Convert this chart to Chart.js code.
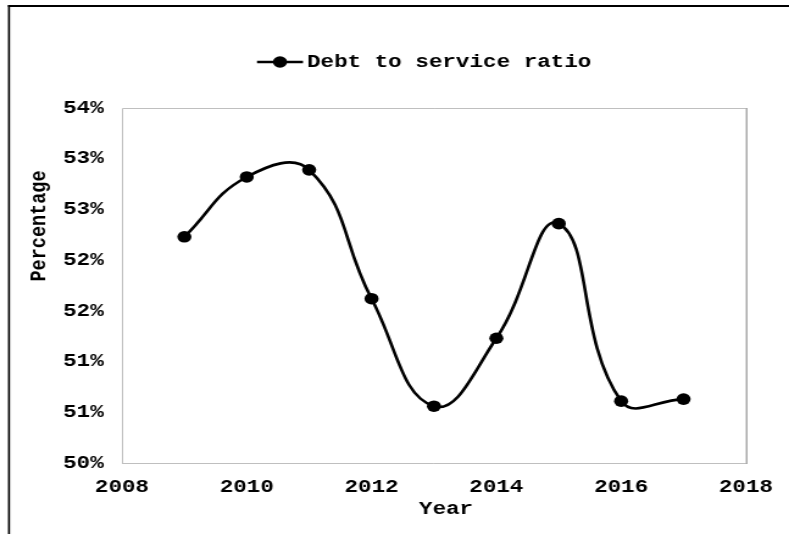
<!DOCTYPE html>
<html>
<head>
<meta charset="utf-8">
<script src="https://cdn.jsdelivr.net/npm/chart.js@4"></script>
<style>
  html, body { margin: 0; padding: 0; background: #fff; overflow: hidden; }
  #wrap { position: absolute; left: 0; top: 0; width: 789px; height: 534px; overflow: hidden; }
  #c { display: block; transform-origin: 0 0; transform: scaleX(1.219474); }
</style>
</head>
<body>
<div id="wrap"><canvas id="c" width="647" height="534"></canvas></div>
<script>
const years = [2009, 2010, 2011, 2012, 2013, 2014, 2015, 2016, 2017];
const ratioValues = [52.23, 52.82, 52.89, 51.62, 50.56, 51.23, 52.36, 50.61, 50.63];
const yTickLabels = ['50%', '51%', '51%', '52%', '52%', '53%', '53%', '54%'];
const xTickLabels = ['2008', '2010', '2012', '2014', '2016', '2018'];
const seriesName = 'Debt to service ratio';
const xTitle = 'Year';
const yTitle = 'Percentage';

const SX = 789 / 647; // horizontal stretch applied by CSS
const FSIZE = 18.5;
const FAMILY = '"Liberation Mono", "Courier New", monospace';
const FONT = 'bold ' + FSIZE + 'px ' + FAMILY;

const decorPlugin = {
  id: 'decor',
  beforeDraw(chart) {
    const ctx = chart.ctx;
    ctx.save();
    ctx.fillStyle = '#fff';
    ctx.fillRect(0, 0, chart.width, chart.height);
    ctx.fillStyle = '#000';
    ctx.fillRect(8 / SX, 5, chart.width, 2);
    ctx.fillRect(8 / SX, 5, 2 / SX, chart.height);
    ctx.restore();
  },
  beforeDatasetsDraw(chart) {
    const ctx = chart.ctx;
    const a = chart.chartArea;
    ctx.save();
    ctx.lineWidth = 1;
    ctx.strokeStyle = '#bfbfbf';
    ctx.beginPath();
    ctx.moveTo(a.left + 0.5, a.bottom + 0.5);
    ctx.lineTo(a.left + 0.5, a.top + 0.5);
    ctx.lineTo(a.right, a.top + 0.5);
    ctx.moveTo(a.left, a.bottom + 0.5);
    ctx.lineTo(a.right, a.bottom + 0.5);
    ctx.stroke();
    ctx.strokeStyle = '#808080';
    ctx.beginPath();
    ctx.moveTo(a.right + 0.5, a.top);
    ctx.lineTo(a.right + 0.5, a.bottom + 1);
    ctx.stroke();
    ctx.restore();
  },
  afterDraw(chart) {
    const ctx = chart.ctx;
    ctx.save();
    ctx.fillStyle = '#000';
    ctx.font = FONT;
    const ly = 62;
    ctx.strokeStyle = '#000';
    ctx.lineWidth = 2.5;
    ctx.beginPath();
    ctx.moveTo(257 / SX, ly);
    ctx.lineTo(303 / SX, ly);
    ctx.stroke();
    ctx.beginPath();
    ctx.arc(280 / SX, ly, 5.8, 0, Math.PI * 2);
    ctx.fill();
    ctx.textAlign = 'left';
    ctx.textBaseline = 'middle';
    ctx.fillText(seriesName, 307 / SX, ly);
    ctx.textAlign = 'center';
    ctx.fillText(xTitle, 446 / SX, 509);
    ctx.translate(40 / SX, 226);
    ctx.rotate(-Math.PI / 2);
    ctx.fillText(yTitle, 0, 0);
    ctx.restore();
  }
};

new Chart(document.getElementById('c'), {
  type: 'line',
  data: {
    datasets: [{
      label: seriesName,
      data: years.map((y, i) => ({ x: y, y: ratioValues[i] })),
      borderColor: '#000',
      backgroundColor: '#000',
      borderWidth: 2.6,
      pointRadius: 5.8,
      pointHoverRadius: 5.8,
      pointBackgroundColor: '#000',
      pointBorderWidth: 0,
      tension: 0.45,
      fill: false
    }]
  },
  options: {
    responsive: false,
    animation: false,
    devicePixelRatio: 1,
    layout: { padding: { left: 0, right: 35.3, top: 108, bottom: 0 } },
    plugins: {
      legend: { display: false },
      tooltip: { enabled: false }
    },
    scales: {
      x: {
        type: 'linear',
        min: 2008,
        max: 2018,
        ticks: {
          stepSize: 2,
          color: '#000',
          font: { family: FAMILY, size: FSIZE, weight: 'bold' },
          padding: 13,
          maxRotation: 0,
          callback: (v) => { const i = xTickLabels.indexOf(String(v)); return i >= 0 ? xTickLabels[i] : ''; }
        },
        grid: { display: false, drawTicks: false },
        border: { display: false },
        afterFit: (s) => { s.height = 71; }
      },
      y: {
        type: 'linear',
        min: 50,
        max: 53.5,
        ticks: {
          stepSize: 0.5,
          color: '#000',
          font: { family: FAMILY, size: FSIZE, weight: 'bold' },
          padding: 15,
          callback: (v) => { const i = Math.round((v - 50) / 0.5); return yTickLabels[i] ?? ''; }
        },
        grid: { display: false, drawTicks: false },
        border: { display: false },
        afterFit: (s) => { s.width = 100; }
      }
    }
  },
  plugins: [decorPlugin]
});
</script>
</body>
</html>
